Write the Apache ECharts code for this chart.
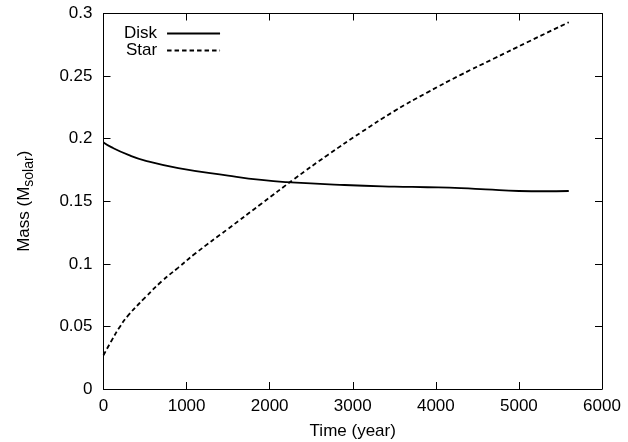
<!DOCTYPE html>
<html>
<head>
<meta charset="utf-8">
<script src="https://cdn.jsdelivr.net/npm/echarts@6/dist/echarts.min.js"></script>
<style>
html,body{margin:0;padding:0;background:#fff;}
#chart{width:628px;height:442px;}
</style>
</head>
<body>
<div id="chart"></div>
<script>
// Data
const diskTime = [0, 100, 300, 500, 900, 1500, 1900, 2200, 2900, 3500, 3900, 4300, 4600, 5000, 5300, 5600];
const diskMass = [0.197, 0.193, 0.187, 0.1825, 0.1765, 0.1705, 0.167, 0.1653, 0.163, 0.1617, 0.1612, 0.1605, 0.1595, 0.1582, 0.158, 0.1582];

const starTime = [0, 100, 200, 300, 500, 700, 900, 1100, 1500, 1900, 2300, 2700, 3100, 3500, 3900, 4300, 4700, 5100, 5600];
const starMass = [0.027, 0.039, 0.050, 0.059, 0.073, 0.086, 0.097, 0.108, 0.128, 0.148, 0.168, 0.187, 0.205, 0.222, 0.237, 0.251, 0.264, 0.277, 0.293];

const xTicks = {min: 0, max: 6000, step: 1000};
const yTicks = {min: 0, max: 0.3, step: 0.05};

const FONT = 'Liberation Sans, Arial, Helvetica, sans-serif';
const chart = echarts.init(document.getElementById('chart'), null, {renderer: 'canvas'});

function pairs(xs, ys) { return xs.map((x, i) => [x, ys[i]]); }

const tickStyle = {show: true, inside: true, length: 7, lineStyle: {color: '#000', width: 1}};
const axisLine = {show: true, onZero: false, lineStyle: {color: '#000', width: 1}};

chart.setOption({
  animation: false,
  backgroundColor: '#fff',
  textStyle: {fontFamily: FONT},
  grid: {left: 103.5, right: 26, top: 13.5, bottom: 53, show: false, containLabel: false, outerBoundsMode: 'none'},
  legend: {
    orient: 'vertical',
    left: 119,
    top: 20,
    align: 'right',
    itemWidth: 53,
    itemHeight: 14,
    itemGap: 0,
    itemStyle: {opacity: 0},
    textStyle: {fontFamily: FONT, fontSize: 17, color: '#000', lineHeight: 17, padding: [0, 5, 0, 0]},
    data: ['Disk', 'Star']
  },
  xAxis: [{
    type: 'value',
    min: xTicks.min, max: xTicks.max, interval: xTicks.step,
    name: 'Time (year)',
    nameLocation: 'middle',
    nameGap: 34,
    nameTextStyle: {fontFamily: FONT, fontSize: 17, color: '#000'},
    axisLine: axisLine,
    axisTick: tickStyle,
    axisLabel: {fontFamily: FONT, fontSize: 17, color: '#000', margin: 9, formatter: v => String(v)},
    splitLine: {show: false}
  }, {
    type: 'value', position: 'top',
    min: xTicks.min, max: xTicks.max, interval: xTicks.step,
    axisLine: axisLine, axisTick: tickStyle,
    axisLabel: {show: false}, splitLine: {show: false}
  }],
  yAxis: [{
    type: 'value',
    min: yTicks.min, max: yTicks.max, interval: yTicks.step,
    name: '{main|Mass (M}{sub|solar}{main|)}',
    nameLocation: 'middle',
    nameGap: 70,
    nameTextStyle: {
      fontFamily: FONT, fontSize: 17, color: '#000',
      rich: {
        main: {fontFamily: FONT, fontSize: 17, color: '#000', verticalAlign: 'top', lineHeight: 18},
        sub: {fontFamily: FONT, fontSize: 14, color: '#000', verticalAlign: 'top', padding: [7, 0, 0, 0], lineHeight: 15}
      }
    },
    axisLine: axisLine,
    axisTick: tickStyle,
    axisLabel: {fontFamily: FONT, fontSize: 17, color: '#000', margin: 11},
    splitLine: {show: false}
  }, {
    type: 'value', position: 'right',
    min: yTicks.min, max: yTicks.max, interval: yTicks.step,
    axisLine: axisLine, axisTick: tickStyle,
    axisLabel: {show: false}, splitLine: {show: false}
  }],
  series: [{
    name: 'Disk',
    type: 'line',
    xAxisIndex: 0, yAxisIndex: 0,
    data: pairs(diskTime, diskMass),
    smooth: 0.5,
    symbol: 'none',
    lineStyle: {color: '#000', width: 1.8, type: 'solid'},
    itemStyle: {color: '#000'}
  }, {
    name: 'Star',
    type: 'line',
    xAxisIndex: 0, yAxisIndex: 0,
    data: pairs(starTime, starMass),
    smooth: 0.5,
    symbol: 'none',
    lineStyle: {color: '#000', width: 1.8, type: [4.5, 3]},
    itemStyle: {color: '#000'}
  }]
});
</script>
</body>
</html>
